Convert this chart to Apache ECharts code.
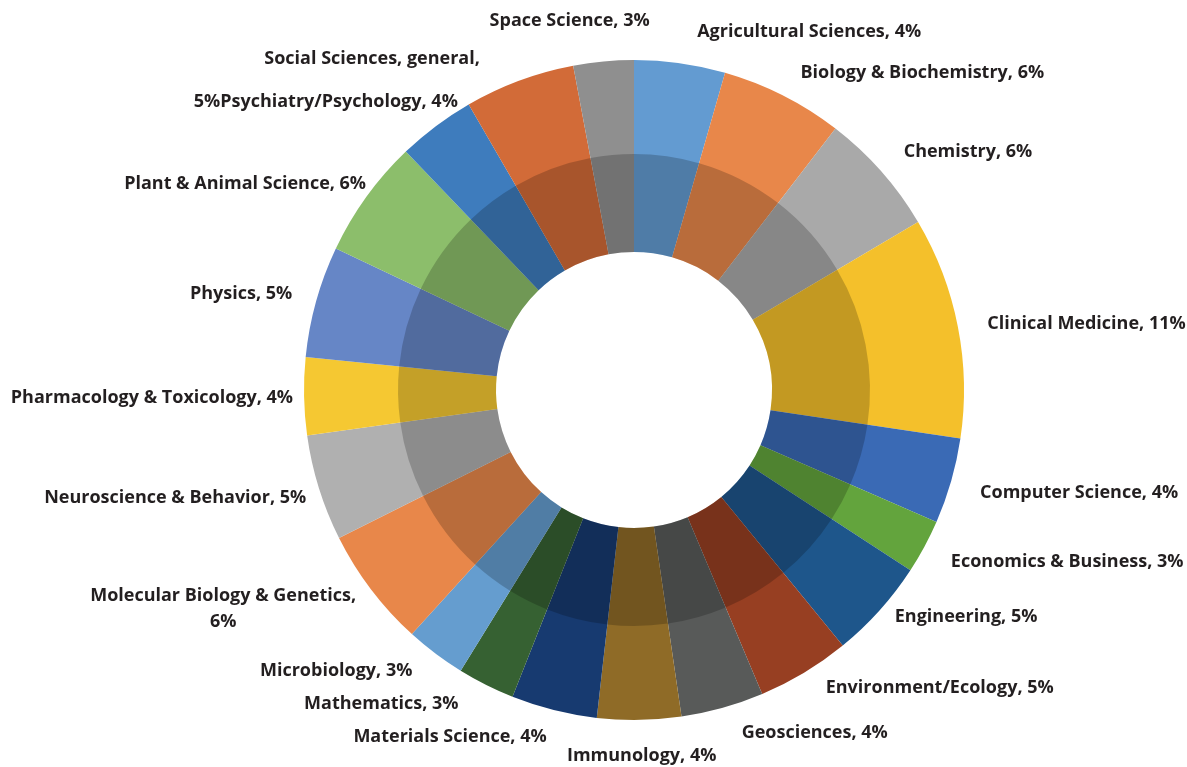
<!DOCTYPE html>
<html>
<head>
<meta charset="utf-8">
<script src="https://cdn.jsdelivr.net/npm/echarts@6/dist/echarts.min.js"></script>
<style>
html,body{margin:0;padding:0;background:#ffffff;}
#chart{width:1187px;height:767px;}
</style>
</head>
<body>
<div id="chart"></div>
<script>
// ---- data ----
const categories = [
  'Agricultural Sciences', 'Biology & Biochemistry', 'Chemistry', 'Clinical Medicine',
  'Computer Science', 'Economics & Business', 'Engineering', 'Environment/Ecology',
  'Geosciences', 'Immunology', 'Materials Science', 'Mathematics', 'Microbiology',
  'Molecular Biology & Genetics', 'Neuroscience & Behavior', 'Pharmacology & Toxicology',
  'Physics', 'Plant & Animal Science', 'Psychiatry/Psychology', 'Social Sciences, general',
  'Space Science'
];
const values = [
  4.45, 6.0, 6.05, 10.85,
  4.2, 2.65, 4.9, 4.55,
  4.05, 4.1, 4.2, 2.8, 2.95,
  5.85, 5.2, 3.8,
  5.45, 5.8, 3.8, 5.4,
  2.95
];
const shownPercents = [4, 6, 6, 11, 4, 3, 5, 5, 4, 4, 4, 3, 3, 6, 5, 4, 5, 6, 4, 5, 3];

// ---- styles ----
const colors = [
  '#639bd1', '#e8874a', '#a9a9a9', '#f4c02b',
  '#3a6ab5', '#63a43d', '#1e568b', '#973f22',
  '#585a59', '#8f6b27', '#173a70', '#366132', '#659dcf',
  '#e8874a', '#b0b0b0', '#f5c832',
  '#6686c6', '#8cbe6b', '#3e7cbd', '#d26b38',
  '#8f8f8f'
];
// label nudges relative to ECharts' outside anchor (presentation only)
const labelNudge = {
  'Agricultural Sciences': {dx: 13, dy: -2},
  'Biology & Biochemistry': {dx: 4, dy: 4},
  'Clinical Medicine': {dx: 0, dy: 3},
  'Computer Science': {dx: 0, dy: 4},
  'Economics & Business': {dx: 0, dy: 1},
  'Engineering': {dx: -7, dy: -14},
  'Environment/Ecology': {dx: 6, dy: -11},
  'Geosciences': {dx: 11, dy: -4},
  'Immunology': {dx: 2, dy: 6, align: 'center'},
  'Materials Science': {dx: 0, dy: -2},
  'Mathematics': {dx: -14, dy: -8},
  'Microbiology': {dx: -5, dy: -7},
  'Molecular Biology & Genetics': {dx: -124, dy: 1, align: 'center'},
  'Neuroscience & Behavior': {dx: 16, dy: 1},
  'Pharmacology & Toxicology': {dx: 19, dy: 1},
  'Physics': {dx: 5, dy: 1},
  'Plant & Animal Science': {dx: 24, dy: 5},
  'Psychiatry/Psychology': {dx: 40, dy: 0},
  'Social Sciences, general': {dx: -29, dy: 6},
  'Space Science': {dx: 49, dy: -11}
};

const socialIdx = categories.indexOf('Social Sciences, general');
function labelText(i) {
  const name = categories[i];
  if (name === 'Social Sciences, general') return name + ',';
  if (name === 'Psychiatry/Psychology') return shownPercents[socialIdx] + '%' + name + ', ' + shownPercents[i] + '%';
  if (name === 'Molecular Biology & Genetics') return name + ',\n' + shownPercents[i] + '%';
  return name + ', ' + shownPercents[i] + '%';
}

const pieData = categories.map((c, i) => ({
  name: c,
  value: values[i],
  itemStyle: {color: colors[i]}
}));

const chart = echarts.init(document.getElementById('chart'), null, {renderer: 'canvas'});
chart.setOption({
  backgroundColor: '#ffffff',
  animation: false,
  series: [
    {
      type: 'pie',
      center: [634, 390],
      radius: [138, 330],
      startAngle: 90,
      clockwise: true,
      avoidLabelOverlap: false,
      data: pieData,
      itemStyle: {borderWidth: 0},
      label: {
        show: true,
        position: 'outside',
        formatter: p => labelText(p.dataIndex),
        fontFamily: 'Open Sans',
        fontWeight: 'bold',
        fontSize: 18,
        lineHeight: 26,
        color: '#231f20',
        distanceToLabelLine: 0
      },
      labelLine: {show: false, length: 30, length2: 0},
      labelLayout: function (params) {
        const n = labelNudge[categories[params.dataIndex]];
        if (!n) return {};
        const o = {dx: n.dx, dy: n.dy};
        if (n.align) o.align = n.align;
        return o;
      },
      emphasis: {disabled: true}
    },
    {
      type: 'pie',
      center: [634, 390],
      radius: [138, 236],
      startAngle: 90,
      clockwise: true,
      silent: true,
      data: categories.map((c, i) => ({name: c, value: values[i]})),
      itemStyle: {color: 'rgba(0,0,0,0.2)', borderWidth: 0},
      label: {show: false},
      labelLine: {show: false},
      emphasis: {disabled: true}
    }
  ]
});
</script>
</body>
</html>
